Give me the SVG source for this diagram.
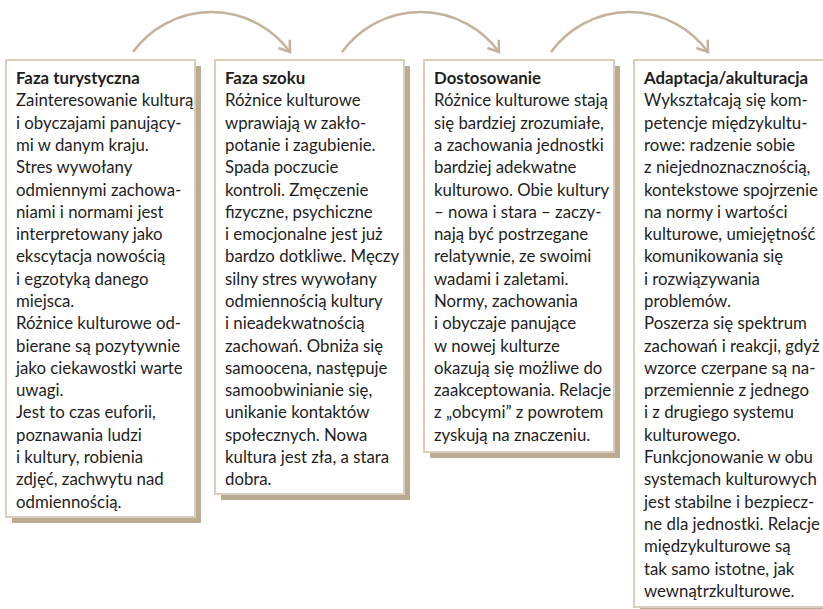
<svg xmlns="http://www.w3.org/2000/svg" width="823" height="609" viewBox="0 0 823 609">
<style>
.shadow{fill:#bdab91}
.box{fill:#ffffff;stroke:#d9cdbb;stroke-width:2}
.txt{font-family:Lato,"Liberation Sans",sans-serif;font-size:16.8px;fill:#1e1e1e}
.title{font-weight:bold}
.conn{fill:none;stroke:#c3b39b;stroke-width:2.5}
</style>
<defs>
<marker id="arr" markerUnits="userSpaceOnUse" markerWidth="16" markerHeight="18" refX="12" refY="8" orient="auto">
<path d="M2,1 L12,8 L2,15" fill="none" stroke="#c3b39b" stroke-width="2.5"/>
</marker>
</defs>
<g id="connectors">
<path class="conn" d="M133,52 A97,97 0 0 1 290,52" marker-end="url(#arr)"/>
<path class="conn" d="M342,52 A97,97 0 0 1 499,52" marker-end="url(#arr)"/>
<path class="conn" d="M551,52 A97,97 0 0 1 708,52" marker-end="url(#arr)"/>
</g>
<g id="faza-turystyczna">
<rect class="shadow" x="12" y="66" width="189" height="457"/>
<rect class="box" x="6" y="60" width="189" height="457"/>
<text class="txt" x="16" y="84"><tspan class="title">Faza turystyczna</tspan><tspan x="16" dy="22.3">Zainteresowanie kulturą</tspan><tspan x="16" dy="22.3">i obyczajami panujący-</tspan><tspan x="16" dy="22.3">mi w danym kraju.</tspan><tspan x="16" dy="22.3">Stres wywołany</tspan><tspan x="16" dy="22.3">odmiennymi zachowa-</tspan><tspan x="16" dy="22.3">niami i normami jest</tspan><tspan x="16" dy="22.3">interpretowany jako</tspan><tspan x="16" dy="22.3">ekscytacja nowością</tspan><tspan x="16" dy="22.3">i egzotyką danego</tspan><tspan x="16" dy="22.3">miejsca.</tspan><tspan x="16" dy="22.3">Różnice kulturowe od-</tspan><tspan x="16" dy="22.3">bierane są pozytywnie</tspan><tspan x="16" dy="22.3">jako ciekawostki warte</tspan><tspan x="16" dy="22.3">uwagi.</tspan><tspan x="16" dy="22.3">Jest to czas euforii,</tspan><tspan x="16" dy="22.3">poznawania ludzi</tspan><tspan x="16" dy="22.3">i kultury, robienia</tspan><tspan x="16" dy="22.3">zdjęć, zachwytu nad</tspan><tspan x="16" dy="22.3">odmiennością.</tspan></text>
</g>
<g id="faza-szoku">
<rect class="shadow" x="221" y="66" width="189" height="434"/>
<rect class="box" x="215" y="60" width="189" height="434"/>
<text class="txt" x="225" y="84"><tspan class="title">Faza szoku</tspan><tspan x="225" dy="22.3">Różnice kulturowe</tspan><tspan x="225" dy="22.3">wprawiają w zakło-</tspan><tspan x="225" dy="22.3">potanie i zagubienie.</tspan><tspan x="225" dy="22.3">Spada poczucie</tspan><tspan x="225" dy="22.3">kontroli. Zmęczenie</tspan><tspan x="225" dy="22.3">fizyczne, psychiczne</tspan><tspan x="225" dy="22.3">i emocjonalne jest już</tspan><tspan x="225" dy="22.3">bardzo dotkliwe. Męczy</tspan><tspan x="225" dy="22.3">silny stres wywołany</tspan><tspan x="225" dy="22.3">odmiennością kultury</tspan><tspan x="225" dy="22.3">i nieadekwatnością</tspan><tspan x="225" dy="22.3">zachowań. Obniża się</tspan><tspan x="225" dy="22.3">samoocena, następuje</tspan><tspan x="225" dy="22.3">samoobwinianie się,</tspan><tspan x="225" dy="22.3">unikanie kontaktów</tspan><tspan x="225" dy="22.3">społecznych. Nowa</tspan><tspan x="225" dy="22.3">kultura jest zła, a stara</tspan><tspan x="225" dy="22.3">dobra.</tspan></text>
</g>
<g id="dostosowanie">
<rect class="shadow" x="430" y="66" width="190" height="392"/>
<rect class="box" x="424" y="60" width="190" height="392"/>
<text class="txt" x="434" y="84"><tspan class="title">Dostosowanie</tspan><tspan x="434" dy="22.3">Różnice kulturowe stają</tspan><tspan x="434" dy="22.3">się bardziej zrozumiałe,</tspan><tspan x="434" dy="22.3">a zachowania jednostki</tspan><tspan x="434" dy="22.3">bardziej adekwatne</tspan><tspan x="434" dy="22.3">kulturowo. Obie kultury</tspan><tspan x="434" dy="22.3">– nowa i stara – zaczy-</tspan><tspan x="434" dy="22.3">nają być postrzegane</tspan><tspan x="434" dy="22.3">relatywnie, ze swoimi</tspan><tspan x="434" dy="22.3">wadami i zaletami.</tspan><tspan x="434" dy="22.3">Normy, zachowania</tspan><tspan x="434" dy="22.3">i obyczaje panujące</tspan><tspan x="434" dy="22.3">w nowej kulturze</tspan><tspan x="434" dy="22.3">okazują się możliwe do</tspan><tspan x="434" dy="22.3">zaakceptowania. Relacje</tspan><tspan x="434" dy="22.3">z „obcymi” z powrotem</tspan><tspan x="434" dy="22.3">zyskują na znaczeniu.</tspan></text>
</g>
<g id="adaptacja">
<rect class="shadow" x="640" y="66" width="190" height="547"/>
<rect class="box" x="634" y="60" width="190" height="547"/>
<text class="txt" x="644" y="84"><tspan class="title">Adaptacja/akulturacja</tspan><tspan x="644" dy="22.3">Wykształcają się kom-</tspan><tspan x="644" dy="22.3">petencje międzykultu-</tspan><tspan x="644" dy="22.3">rowe: radzenie sobie</tspan><tspan x="644" dy="22.3">z niejednoznacznością,</tspan><tspan x="644" dy="22.3">kontekstowe spojrzenie</tspan><tspan x="644" dy="22.3">na normy i wartości</tspan><tspan x="644" dy="22.3">kulturowe, umiejętność</tspan><tspan x="644" dy="22.3">komunikowania się</tspan><tspan x="644" dy="22.3">i rozwiązywania</tspan><tspan x="644" dy="22.3">problemów.</tspan><tspan x="644" dy="22.3">Poszerza się spektrum</tspan><tspan x="644" dy="22.3">zachowań i reakcji, gdyż</tspan><tspan x="644" dy="22.3">wzorce czerpane są na-</tspan><tspan x="644" dy="22.3">przemiennie z jednego</tspan><tspan x="644" dy="22.3">i z drugiego systemu</tspan><tspan x="644" dy="22.3">kulturowego.</tspan><tspan x="644" dy="22.3">Funkcjonowanie w obu</tspan><tspan x="644" dy="22.3">systemach kulturowych</tspan><tspan x="644" dy="22.3">jest stabilne i bezpiecz-</tspan><tspan x="644" dy="22.3">ne dla jednostki. Relacje</tspan><tspan x="644" dy="22.3">międzykulturowe są</tspan><tspan x="644" dy="22.3">tak samo istotne, jak</tspan><tspan x="644" dy="22.3">wewnątrzkulturowe.</tspan></text>
</g>
</svg>
